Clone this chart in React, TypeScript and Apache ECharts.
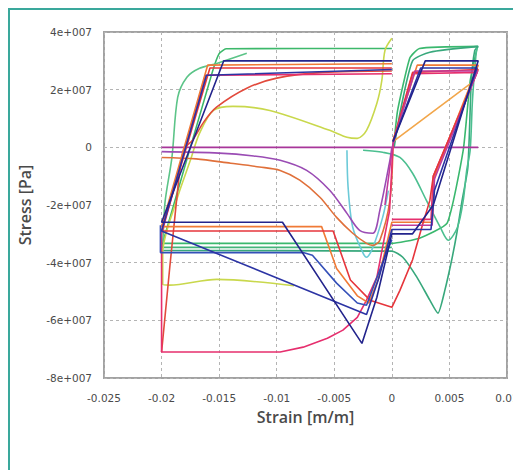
import React, { useEffect, useRef } from "react";
import * as echarts from "echarts";

// Units used in the arrays: strain in 1e-3 m/m, stress in 1e7 Pa
const STRAIN_UNIT = 0.001;
const STRESS_UNIT = 1e7;

const xTickLabels = ["-0.025", "-0.02", "-0.015", "-0.01", "-0.005", "0", "0.005", "0.01"];
const yTickLabels = ["-8e+007", "-6e+007", "-4e+007", "-2e+007", "0", "2e+007", "4e+007"];

// [strain, stress]
const greenTop = [[-20.0, -3.45], [-15.6, 2.6], [-15.0, 3.25], [-14.4, 3.42], [0, 3.43]];
const greenRise = [[-20.0, -3.5], [-19.9, -3.3], [-19.7, -1.9], [-19.1, -0.35], [-18.6, 1.73], [-17.8, 2.43], [-16.7, 2.74], [-15.2, 2.91], [-12.6, 3.26]];
const greenBand = [[-20.0, -3.33], [0, -3.33], [2.4, -3.15], [4.8, -2.63], [6.2, -0.1], [6.8, 2.3], [7.4, 3.45], [7.45, 3.5], [2.4, 3.43], [1.56, 3.1], [0.5, 1.28], [0.15, 0.0]];
const greenBand2 = [[-20.0, -3.47], [0, -3.47]];
const greenV = [[-20.0, -3.58], [0, -3.6], [0.95, -3.81], [2.17, -4.5], [3.3, -5.3], [4.0, -5.75], [4.6, -4.96], [5.2, -3.9], [5.64, -2.98], [6.1, -1.84], [6.6, -0.7], [6.9, 2.3], [7.2, 3.36], [7.5, 3.5], [3.3, 3.3], [1.8, 3.0], [0.7, 1.18], [0.2, 0]];
const tealV = [[-2.5, -0.1], [-0.8, -0.17], [0.7, -0.35], [1.8, -0.9], [3.0, -1.84], [4.2, -2.77], [4.9, -3.22], [5.7, -2.77], [6.2, -1.84], [6.5, -0.8], [6.8, -0.1], [7.0, 1.63], [7.3, 3.19], [7.4, 3.45]];
const cyanV = [[-3.9, -0.1], [-3.8, -1.39], [-3.4, -2.77], [-2.5, -3.67], [-2.2, -3.81], [-1.65, -3.47], [-0.8, -2.43], [-0.3, -1.5]];
const yellow = [[-8.5, -4.8], [-15.2, -4.58], [-19.3, -4.78], [-19.9, -4.75], [-19.9, -3.67], [-18.7, -1.84], [-17.5, -0.45], [-16.7, 0.49], [-15.5, 1.28], [-13.8, 1.42], [-10.6, 1.28], [-5.4, 0.59], [-3.9, 0.35], [-3.0, 0.31], [-2.2, 0.59], [-1.3, 1.53], [-0.87, 2.32], [-0.6, 3.36], [0, 3.78]];
const lightOrange = [[0.1, 0.2], [6.8, 2.2]];
const zeroLine = [[-20.0, 0], [7.5, 0]];
const purpleCurve = [[-20.0, -0.15], [-15.0, -0.2], [-12.0, -0.3], [-9.7, -0.45], [-7.4, -0.8], [-5.4, -1.49], [-3.9, -2.29], [-2.8, -2.88], [-1.65, -2.98], [-1.04, -2.18], [-0.17, -0.45], [0, 0]];
const orangeCurve = [[-20.0, -0.35], [-17.0, -0.4], [-14.0, -0.55], [-11.5, -0.68], [-9.7, -0.8], [-8.0, -1.14], [-6.25, -1.73], [-4.8, -2.43], [-3.4, -2.98], [-2.2, -3.33], [-1.65, -3.4], [-1.04, -3.22], [-0.17, -1.84], [0.1, 0.1]];
const redConcave = [[-20.0, -7.1], [-18.7, -1.85], [-18.1, -0.1], [-17.3, 0.25], [-16.3, 0.9], [-15.2, 1.4], [-12.6, 2.05], [-10.0, 2.4], [-6.0, 2.6], [0, 2.65]];
const crimsonLoop = [[0, -2.5], [3.4, -2.5], [3.6, -1.0], [7.4, 2.6], [1.8, 2.55], [0.1, 0.1], [-0.2, -2.2], [-1.3, -4.5], [-2.2, -5.3], [-3.0, -5.9], [-4.25, -6.34], [-5.6, -6.62], [-7.7, -6.93], [-9.7, -7.1], [-20.0, -7.1], [-20.0, -3.0], [-16.2, 2.5], [0, 2.55]];
const orangeLoop = [[0, 2.9], [-16.0, 2.85], [-20.0, -2.75], [-6.1, -2.75], [-4.8, -4.2], [-3.0, -5.15], [-2.0, -5.4], [-1.2, -4.6], [0, -2.6], [3.5, -2.6], [3.7, -1.0], [7.5, 2.85], [2.2, 2.85], [0.1, 0.25]];
const redLoop = [[0, 2.75], [-15.8, 2.75], [-20.0, -2.9], [-5.1, -2.9], [-3.6, -4.6], [-1.9, -5.3], [0, -5.55], [0.7, -4.96], [1.8, -3.9], [2.6, -2.77], [3.3, -1.84], [3.6, -1.0], [7.5, 2.7], [1.8, 2.6], [0.1, 0.2]];
const magentaLoop = [[0, -2.7], [3.5, -2.7], [3.7, -1.1], [7.45, 2.65], [2.0, 2.65], [0.1, 0.15], [-0.6, -2.0]];
const blueLow = [[-20.1, -2.7], [-20.1, -3.65], [-7.7, -3.65], [-6.9, -3.74], [-4.8, -4.71], [-3.0, -5.4], [-2.2, -5.48], [-1.0, -4.2], [0, -3.2]];
const navyB = [[0, 2.7], [-16.1, 2.5], [-20.0, -2.9], [-2.2, -5.8], [-1.1, -4.5], [0, -2.85], [3.4, -2.85], [3.7, -1.5], [7.4, 2.75], [2.5, 2.75], [0.1, 0.2]];
const navyA = [[0, 3.0], [-14.6, 3.0], [-20.0, -2.6], [-9.5, -2.6], [-2.6, -6.8], [-1.3, -5.2], [0, -3.0], [1.8, -3.0], [3.6, -2.0], [7.5, 3.0], [2.9, 3.0], [0.1, 0.2]];

const curves: { name: string; pts: number[][]; color: string; smooth: number }[] = [
  { name: "greenTop", pts: greenTop, color: "#3cb86a", smooth: 0.15 },
  { name: "greenRise", pts: greenRise, color: "#5cc488", smooth: 0.3 },
  { name: "greenBand", pts: greenBand, color: "#3ab86e", smooth: 0.15 },
  { name: "greenBand2", pts: greenBand2, color: "#44b47a", smooth: 0 },
  { name: "greenV", pts: greenV, color: "#38a87c", smooth: 0.2 },
  { name: "tealV", pts: tealV, color: "#4cbf90", smooth: 0.3 },
  { name: "cyanV", pts: cyanV, color: "#6ccad8", smooth: 0.3 },
  { name: "yellow", pts: yellow, color: "#c9d84c", smooth: 0.3 },
  { name: "lightOrange", pts: lightOrange, color: "#f2a64a", smooth: 0 },
  { name: "zeroLine", pts: zeroLine, color: "#a8369a", smooth: 0 },
  { name: "purpleCurve", pts: purpleCurve, color: "#9a4cb4", smooth: 0.3 },
  { name: "orangeCurve", pts: orangeCurve, color: "#e0703a", smooth: 0.3 },
  { name: "redConcave", pts: redConcave, color: "#e24a3c", smooth: 0.3 },
  { name: "crimsonLoop", pts: crimsonLoop, color: "#e62f6e", smooth: 0 },
  { name: "orangeLoop", pts: orangeLoop, color: "#f07a36", smooth: 0 },
  { name: "redLoop", pts: redLoop, color: "#e6363c", smooth: 0 },
  { name: "magentaLoop", pts: magentaLoop, color: "#c03a9c", smooth: 0 },
  { name: "blueLow", pts: blueLow, color: "#3550b8", smooth: 0 },
  { name: "navyB", pts: navyB, color: "#2c34a4", smooth: 0 },
  { name: "navyA", pts: navyA, color: "#23248c", smooth: 0 },
];

const X_MIN = -0.025, X_MAX = 0.01, X_INT = 0.005;
const Y_MIN = -8e7, Y_MAX = 4e7, Y_INT = 2e7;

export default function App() {
  const ref = useRef<HTMLDivElement>(null);
  useEffect(() => {
    if (!ref.current) return;
    const chart = echarts.init(ref.current, undefined, { renderer: "svg" });
    chart.setOption({
      animation: false,
      backgroundColor: "#ffffff",
      grid: { left: 104, top: 32, width: 403, height: 346, show: true, borderColor: "#a2a2a2", borderWidth: 2, backgroundColor: "transparent" },
      xAxis: {
        type: "value", min: X_MIN, max: X_MAX, interval: X_INT,
        axisLine: { show: false }, axisTick: { show: false },
        splitLine: { show: true, lineStyle: { color: "#b4b4b4", type: [3, 3], width: 1 } },
        axisLabel: {
          color: "#4a4a4a", fontSize: 10.5, fontFamily: "DejaVu Sans", margin: 14,
          formatter: (v: number) => xTickLabels[Math.round((v - X_MIN) / X_INT)] ?? "",
        },
        name: "Strain [m/m]", nameLocation: "middle", nameGap: 31,
        nameTextStyle: { fontSize: 16, color: "#4a4a4a", fontFamily: "Open Sans", fontWeight: 600 },
      },
      yAxis: {
        type: "value", min: Y_MIN, max: Y_MAX, interval: Y_INT,
        axisLine: { show: false }, axisTick: { show: false },
        splitLine: { show: true, lineStyle: { color: "#b4b4b4", type: [3, 3], width: 1 } },
        axisLabel: {
          color: "#4a4a4a", fontSize: 10.5, fontFamily: "DejaVu Sans", margin: 12,
          formatter: (v: number) => yTickLabels[Math.round((v - Y_MIN) / Y_INT)] ?? "",
        },
        name: "Stress [Pa]", nameLocation: "middle", nameGap: 71,
        nameTextStyle: { fontSize: 16, color: "#4a4a4a", fontFamily: "Open Sans", fontWeight: 600 },
      },
      series: curves.map((c) => ({
        name: c.name,
        type: "line",
        data: c.pts.map(([x, y]) => [x * STRAIN_UNIT, y * STRESS_UNIT]),
        showSymbol: false,
        symbol: "none",
        silent: true,
        smooth: c.smooth,
        lineStyle: { color: c.color, width: 1.6 },
      })),
    });
    return () => chart.dispose();
  }, []);
  return (
    <div style={{ position: "fixed", left: 0, top: 0, width: 513, height: 470, overflow: "hidden", background: "#fff" }}>
      <div ref={ref} style={{ position: "absolute", left: 0, top: 0, width: 560, height: 470 }} />
      <div style={{ position: "absolute", left: 8, top: 8, width: 600, height: 600, border: "2px solid #3aa89c", pointerEvents: "none" }} />
    </div>
  );
}
